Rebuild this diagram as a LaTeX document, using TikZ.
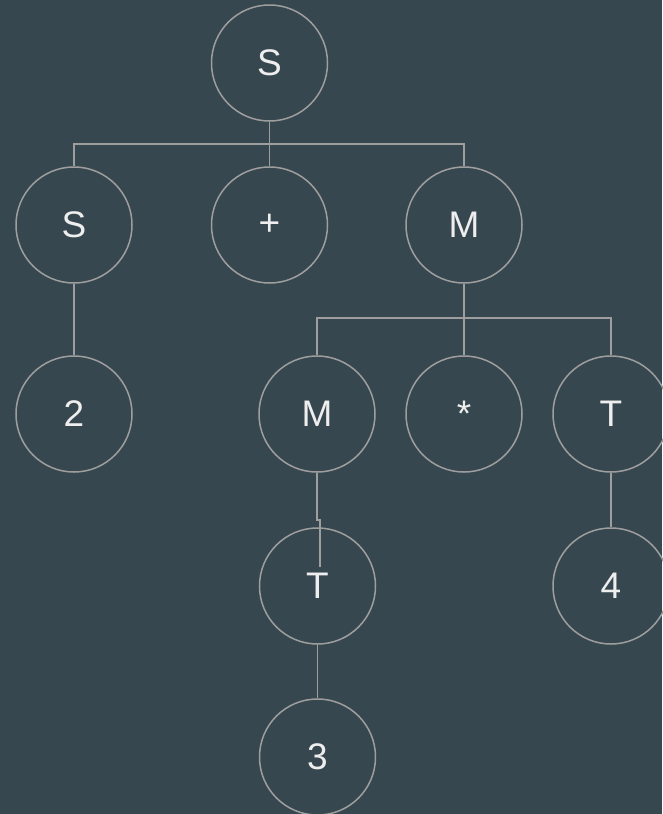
\documentclass[tikz,border=0pt]{standalone}
\usepackage{fontspec}
\setmainfont{Liberation Sans}
\definecolor{bg}{HTML}{37474F}
\definecolor{ln}{HTML}{9E9E9E}
\definecolor{tx}{HTML}{EEEEEE}
\begin{document}
\begin{tikzpicture}[x=1pt,y=-1pt,
  tnode/.style={circle,draw=ln,line width=1.5pt,minimum size=116pt,inner sep=0pt,text=tx,font=\fontsize{37}{40}\selectfont},
  conn/.style={draw=ln,line width=1.5pt}]
\fill[bg] (0,0) rectangle (662,814);
\useasboundingbox (0,0) rectangle (662,814);
\node[tnode] (s0) at (269.5,63) {S};
\node[tnode] (s1) at (74,225) {S};
\node[tnode] (plus) at (269.5,225) {+};
\node[tnode] (m1) at (464,225) {M};
\node[tnode] (two) at (74,414) {2};
\node[tnode] (m2) at (317,414) {M};
\node[tnode] (star) at (464,414) {*};
\node[tnode] (t1) at (611,414) {T};
\node[tnode] (t2) at (317.5,586) {T};
\node[tnode] (four) at (611,586) {4};
\node[tnode] (three) at (317.5,757) {3};
\coordinate (j1) at (269.5,144);
\coordinate (j2) at (464,318);
\draw[conn] (s0.south) -- (j1);
\draw[conn] (j1) -| (s1.north);
\draw[conn] (j1) -- (plus.north);
\draw[conn] (j1) -| (m1.north);
\draw[conn] (m1.south) -- (j2);
\draw[conn] (j2) -| (m2.north);
\draw[conn] (j2) -- (star.north);
\draw[conn] (j2) -| (t1.north);
\draw[conn] (s1.south) -- (two.north);
\coordinate (k1) at (317,518);
\coordinate (k2) at (320,520);
\coordinate (kend) at (320,567);
\draw[conn] (m2.south) -- (k1) -- (k1 |- k2) -- (k2) -- (kend);
\draw[conn] (t1.south) -- (four.north);
\draw[conn] (t2.south) -- (three.north);
\end{tikzpicture}
\end{document}
